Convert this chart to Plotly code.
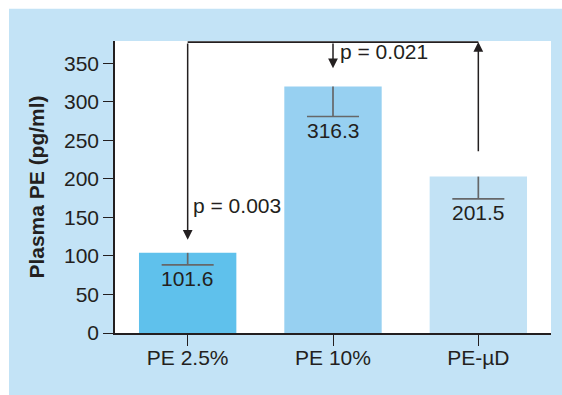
import plotly.graph_objects as go

# ---- data ----
categories = ["PE 2.5%", "PE 10%", "PE-\u00b5D"]
bar_values = [104, 320, 203]          # bar heights as drawn
err_minus = [15.5, 39, 29]            # downward error bar lengths
value_labels = ["101.6", "316.3", "201.5"]
bar_colors = ["#5fc1ec", "#97d0f1", "#c2e2f5"]
y_ticks = [0, 50, 100, 150, 200, 250, 300, 350]
p_labels = ["p = 0.003", "p = 0.021"]
bracket_top = 377.6
arrow_tips = [121, 343.5]             # down-arrow tip values for bars 0 and 1
up_arrow_base = 234                   # up-arrow start value for bar 2

FONT = "Liberation Sans, Arial, sans-serif"
FS = 21
DARK = "#231f20"
PANEL = "#c3e3f6"
x = list(range(len(categories)))

fig = go.Figure()
fig.add_trace(go.Bar(
    x=x, y=bar_values, width=0.67,
    marker=dict(color=bar_colors, line=dict(width=0)),
    hoverinfo="skip", showlegend=False,
))

# error bars (downward only, with cap)
cap = 0.179
for xi, v, e in zip(x, bar_values, err_minus):
    fig.add_trace(go.Scatter(
        x=[xi, xi, None, xi - cap, xi + cap],
        y=[v, v - e, None, v - e, v - e],
        mode="lines", line=dict(color="#666769", width=1.7),
        hoverinfo="skip", showlegend=False,
    ))

# bracket line across top
fig.add_trace(go.Scatter(
    x=[x[0], x[2]], y=[bracket_top, bracket_top],
    mode="lines", line=dict(color=DARK, width=1.7),
    hoverinfo="skip", showlegend=False,
))

annotations = []
# value labels under caps
for xi, v, e, t in zip(x, bar_values, err_minus, value_labels):
    annotations.append(dict(
        x=xi, y=v - e, xref="x", yref="y", text=t, showarrow=False,
        yanchor="middle", xanchor="center", yshift=-14,
        font=dict(family=FONT, size=FS, color=DARK),
    ))
# down arrows
for xi, tip in zip(x[:2], arrow_tips):
    annotations.append(dict(
        x=xi, y=tip, xref="x", yref="y", ax=xi, ay=bracket_top,
        axref="x", ayref="y", text="", showarrow=True,
        arrowhead=2, arrowsize=1.3, arrowwidth=1.5, arrowcolor=DARK,
    ))
# up arrow
annotations.append(dict(
    x=x[2], y=bracket_top, xref="x", yref="y", ax=x[2], ay=up_arrow_base,
    axref="x", ayref="y", text="", showarrow=True,
    arrowhead=2, arrowsize=1.3, arrowwidth=1.5, arrowcolor=DARK,
))
# p-value labels
annotations.append(dict(
    x=x[0], y=165, xref="x", yref="y", text=p_labels[0], showarrow=False,
    xanchor="left", yanchor="middle", xshift=3,
    font=dict(family=FONT, size=FS, color=DARK),
))
annotations.append(dict(
    x=x[1], y=365, xref="x", yref="y", text=p_labels[1], showarrow=False,
    xanchor="left", yanchor="middle", xshift=5,
    font=dict(family=FONT, size=FS, color=DARK),
))

fig.update_layout(
    width=562, height=395,
    margin=dict(l=115, r=11, t=41, b=62, pad=0),
    paper_bgcolor=PANEL, plot_bgcolor="white",
    template="none",
    font=dict(family=FONT, size=FS, color=DARK),
    annotations=annotations,
    xaxis=dict(
        range=[-0.5, 2.5], tickvals=x, ticktext=categories,
        showline=True, linecolor=DARK, linewidth=1.5,
        ticks="outside", ticklen=11, tickwidth=1.4, tickcolor=DARK,
        ticklabelstandoff=-6,
        showgrid=False, zeroline=False, fixedrange=True,
        tickfont=dict(family=FONT, size=FS, color=DARK),
    ),
    yaxis=dict(
        range=[0, 379], tickvals=y_ticks,
        showline=True, linecolor=DARK, linewidth=1.5,
        ticks="outside", ticklen=10, tickwidth=1.4, tickcolor=DARK,
        showgrid=False, zeroline=False, fixedrange=True,
        tickfont=dict(family=FONT, size=FS, color=DARK),
        title=dict(text="<b>Plasma PE (pg/ml)</b>", standoff=14,
                   font=dict(family=FONT, size=FS, color=DARK)),
    ),
)

# white page margin around the blue panel (top 9px, left 9px)
fig.add_shape(type="rect", xref="paper", yref="paper",
              x0=-115 / 436, x1=(9 - 115) / 436, y0=-62 / 292, y1=(395 - 62) / 292 + 0.01,
              fillcolor="white", line=dict(width=0), layer="above")
fig.add_shape(type="rect", xref="paper", yref="paper",
              x0=-115 / 436, x1=(562 - 115) / 436 + 0.01, y0=(333.3 - 9) / 292, y1=(333.3 + 0.5) / 292 + 0.05,
              fillcolor="white", line=dict(width=0), layer="above")

fig.write_html("out.html")
